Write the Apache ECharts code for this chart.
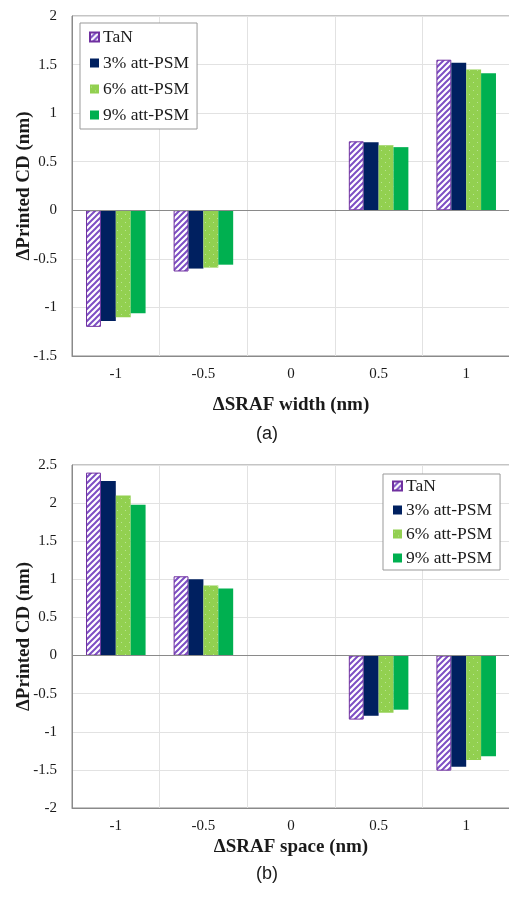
<!DOCTYPE html>
<html>
<head>
<meta charset="utf-8">
<script src="https://cdn.jsdelivr.net/npm/echarts@6/dist/echarts.min.js"></script>
<style>
  html, body { margin: 0; padding: 0; background: #fff; }
  #chart { width: 509px; height: 904px; }
</style>
</head>
<body>
<div id="chart"></div>
<script>
// categories and series
const categories = ['-1', '-0.5', '0', '0.5', '1'];
const seriesNames = ['TaN', '3% att-PSM', '6% att-PSM', '9% att-PSM'];

// (a) delta SRAF width
const widthTaN = [-1.20, -0.63, null, 0.71, 1.55];
const width3 = [-1.14, -0.60, null, 0.70, 1.52];
const width6 = [-1.10, -0.59, null, 0.67, 1.45];
const width9 = [-1.06, -0.56, null, 0.65, 1.41];

// (b) delta SRAF space
const spaceTaN = [2.40, 1.04, null, -0.84, -1.51];
const space3 = [2.29, 1.00, null, -0.79, -1.46];
const space6 = [2.10, 0.92, null, -0.75, -1.37];
const space9 = [1.98, 0.88, null, -0.71, -1.32];

// y axis ranges
const yRangeA = [-1.5, 2];
const yRangeB = [-2, 2.5];
const yStep = 0.5;

const serif = "'Liberation Serif', 'Times New Roman', serif";
const textColor = '#1a1a1a';

// hatch pattern for TaN
function hatchPattern() {
  let c = document.createElement('canvas');
  c.width = 6; c.height = 6;
  let ctx = c.getContext('2d');
  ctx.fillStyle = '#ffffff';
  ctx.fillRect(0, 0, 6, 6);
  ctx.strokeStyle = '#7d4fc4';
  ctx.lineWidth = 2;
  ctx.beginPath();
  ctx.moveTo(-1, 7); ctx.lineTo(7, -1);
  ctx.moveTo(-1, 1); ctx.lineTo(1, -1);
  ctx.moveTo(5, 7); ctx.lineTo(7, 5);
  ctx.stroke();
  return c;
}
// dotted green for 6%
function dotPattern() {
  let c = document.createElement('canvas');
  c.width = 8; c.height = 8;
  let ctx = c.getContext('2d');
  ctx.fillStyle = '#92d050';
  ctx.fillRect(0, 0, 8, 8);
  ctx.fillStyle = '#b9e494';
  ctx.fillRect(1, 2, 1, 1);
  ctx.fillRect(5, 6, 1, 1);
  return c;
}

const styles = [
  { color: { image: hatchPattern(), repeat: 'repeat' }, borderColor: '#7030a0', borderWidth: 1 },
  { color: '#002060' },
  { color: { image: dotPattern(), repeat: 'repeat' } },
  { color: '#00b050' }
];

function makeSeries(arrs, idx) {
  return arrs.map((d, i) => {
    let s = {
      name: seriesNames[i],
      type: 'bar',
      xAxisIndex: idx,
      yAxisIndex: idx,
      data: d,
      barGap: '0%',
      barCategoryGap: '32%',
      itemStyle: styles[i]
    };
    if (i === 0) {
      s.markLine = {
        silent: true,
        symbol: 'none',
        label: { show: false },
        lineStyle: { color: '#8a8a8a', type: 'solid', width: 1 },
        data: [{ yAxis: 0 }]
      };
    }
    return s;
  });
}

function xAxisFor(idx, name, gap) {
  return {
    type: 'category',
    gridIndex: idx,
    data: categories,
    axisLine: { onZero: false, lineStyle: { color: '#8a8a8a' } },
    axisTick: { show: false },
    axisLabel: { color: textColor, fontFamily: serif, fontSize: 15, margin: 11 },
    splitLine: { show: true, lineStyle: { color: '#e2e2e2' } },
    name: name,
    nameLocation: 'middle',
    nameGap: gap,
    nameMoveOverlap: false,
    nameTextStyle: { color: textColor, fontFamily: serif, fontSize: 19, fontWeight: 'bold' }
  };
}

function yAxisFor(idx, range) {
  return {
    type: 'value',
    gridIndex: idx,
    min: range[0],
    max: range[1],
    interval: yStep,
    axisLine: { show: true, lineStyle: { color: '#8a8a8a' } },
    axisTick: { show: false },
    axisLabel: { color: textColor, fontFamily: serif, fontSize: 15, margin: 15 },
    splitLine: { lineStyle: { color: '#e2e2e2' } },
    name: 'ΔPrinted CD (nm)',
    nameLocation: 'middle',
    nameGap: 38,
    nameMoveOverlap: false,
    nameTextStyle: { color: textColor, fontFamily: serif, fontSize: 19, fontWeight: 'bold' }
  };
}

function legendFor(idx, left, top, gap, pad) {
  return {
    orient: 'vertical',
    left: left,
    top: top,
    data: seriesNames,
    itemWidth: 9,
    itemHeight: 9,
    itemGap: gap,
    padding: pad,
    borderColor: '#999',
    borderWidth: 1,
    backgroundColor: '#fff',
    icon: 'rect',
    textStyle: { color: textColor, fontFamily: serif, fontSize: 17.5, lineHeight: 18, padding: [0, 0, 0, -1] }
  };
}

let myChart = echarts.init(document.getElementById('chart'));
let option = {
  animation: false,
  backgroundColor: '#fff',
  grid: [
    { left: 72, top: 16, width: 438, height: 340, show: true, borderColor: '#8a8a8a', borderWidth: 1, outerBoundsMode: 'none' },
    { left: 72, top: 465, width: 438, height: 343, show: true, borderColor: '#8a8a8a', borderWidth: 1, outerBoundsMode: 'none' }
  ],
  legend: [
    legendFor(0, 80, 23, 8, [5, 8, 5, 9]),
    legendFor(1, 383, 474, 6, [3, 8, 3, 9])
  ],
  xAxis: [xAxisFor(0, 'ΔSRAF width (nm)', 40), xAxisFor(1, 'ΔSRAF space (nm)', 30)],
  yAxis: [yAxisFor(0, yRangeA), yAxisFor(1, yRangeB)],
  series: makeSeries([widthTaN, width3, width6, width9], 0)
    .concat(makeSeries([spaceTaN, space3, space6, space9], 1)),
  graphic: [
    { type: 'text', left: 256, top: 425, style: { text: '(a)', fill: textColor, font: "18px 'Liberation Sans', Arial, sans-serif" } },
    { type: 'text', left: 256, top: 865, style: { text: '(b)', fill: textColor, font: "18px 'Liberation Sans', Arial, sans-serif" } }
  ]
};
myChart.setOption(option);
</script>
</body>
</html>
